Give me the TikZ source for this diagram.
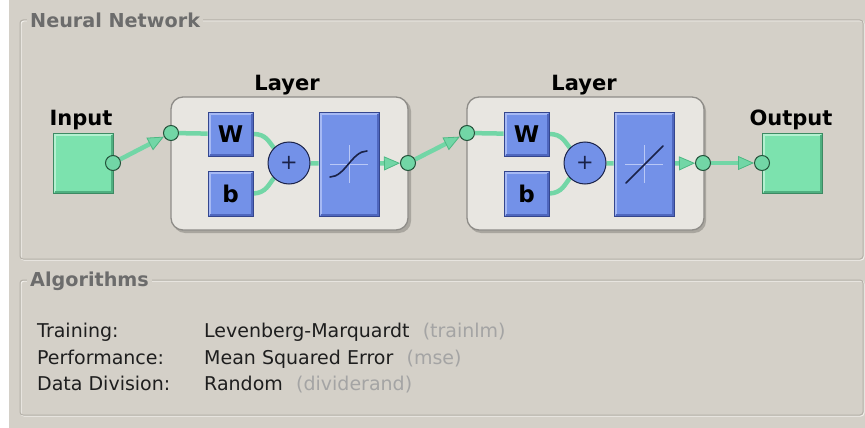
\documentclass[tikz,border=0pt]{standalone}
\usepackage{fontspec}
\setmainfont{DejaVu Sans}
\usetikzlibrary{arrows.meta}

\definecolor{panel}{HTML}{D4D0C8}
\definecolor{etchdark}{HTML}{B4B0A8}
\definecolor{etchlight}{HTML}{F2F0EC}
\definecolor{titlegray}{HTML}{6C6C6C}
\definecolor{textdark}{HTML}{1E1E1E}
\definecolor{parengray}{HTML}{A4A4A4}
\definecolor{layerfill}{HTML}{E8E6E1}
\definecolor{layeredge}{HTML}{8E8C88}
\definecolor{layershade}{HTML}{A9A69F}
\definecolor{blueface}{HTML}{7391E8}
\definecolor{bluelight}{HTML}{A6B9F4}
\definecolor{blueshade}{HTML}{4F67BE}
\definecolor{blueedge}{HTML}{34468E}
\definecolor{navy}{HTML}{1A2248}
\definecolor{crossline}{HTML}{B9C8F6}
\definecolor{greenface}{HTML}{7CE2AE}
\definecolor{greenlight}{HTML}{B4F0D0}
\definecolor{greenshade}{HTML}{4FAF80}
\definecolor{greenedge}{HTML}{3D8A63}
\definecolor{wire}{HTML}{72D6A6}
\definecolor{wiretip}{HTML}{4DB883}
\definecolor{dotedge}{HTML}{24533B}

\pgfdeclarelayer{under}
\pgfdeclarelayer{wires}
\pgfsetlayers{under,wires,main}

\tikzset{
  panelframe/.style={rounded corners=3pt, line width=1pt},
  paneltitle/.style={anchor=base west, fill=panel, inner xsep=3pt, inner ysep=1pt,
    text=titlegray, font=\fontsize{19.2}{22}\selectfont\bfseries},
  bigtag/.style={anchor=base, inner sep=0pt, text=black,
    font=\fontsize{21}{24}\selectfont\bfseries},
  plaintext/.style={anchor=base west, inner sep=0pt, text=textdark,
    font=\fontsize{19}{22}\selectfont},
  layerbox/.style={draw=layeredge, line width=1.3pt, fill=layerfill,
    rounded corners=12pt, minimum width=237pt, minimum height=133pt},
  bevelbox/.style n args={4}{draw=#4, line width=0.9pt, fill=#1,
    path picture={
      \draw[#2, line width=2pt]
        ([shift={(1.5pt,1.5pt)}]path picture bounding box.south west)
        |- ([shift={(-1.5pt,-1.5pt)}]path picture bounding box.north east);
      \draw[#3, line width=2pt]
        ([shift={(1.5pt,1.5pt)}]path picture bounding box.south west)
        -| ([shift={(-1.5pt,-1.5pt)}]path picture bounding box.north east);
    }},
  bluebox/.style={bevelbox={blueface}{bluelight}{blueshade}{blueedge},
    inner sep=0pt, text=black, font=\fontsize{23}{24}\selectfont\bfseries},
  greenbox/.style={bevelbox={greenface}{greenlight}{greenshade}{greenedge},
    minimum width=60pt, minimum height=60pt, inner sep=0pt},
  sumnode/.style={circle, draw=navy, line width=1pt, fill=blueface,
    minimum size=42pt, inner sep=0pt, text=navy,
    font=\fontsize{21}{22}\selectfont},
  dot/.style={circle, draw=dotedge, line width=1pt, fill=wire,
    minimum size=15pt, inner sep=0pt},
  wireline/.style={draw=wire, line width=4.5pt},
  wirearrow/.style={wireline,
    -{Triangle[length=16pt, width=14pt, line width=0.8pt, color=wiretip, fill=wire]}},
  crosshair/.style={crossline, line width=1pt},
  curveline/.style={navy, line width=1.6pt, line cap=round},
}

\begin{document}
\begin{tikzpicture}[x=1pt, y=-1pt]
\useasboundingbox (0,0) rectangle (865,428);

\begin{pgfonlayer}{under}
  % window background
  \fill[white] (0,0) rectangle (865,428);
  \fill[panel] (9,0) rectangle (865,428);

  % etched group frames
  \draw[panelframe, etchlight] (21,21) rectangle (864,260);
  \draw[panelframe, etchdark] (20,20) rectangle (863,259);
  \draw[panelframe, etchlight] (21,281) rectangle (864,416);
  \draw[panelframe, etchdark] (20,280) rectangle (863,415);

  % layer containers with drop shadow
  \fill[layershade, rounded corners=12pt] (173,99) rectangle (411,233);
  \node[layerbox] (L1) at (289.5,163.5) {};
  \fill[layershade, rounded corners=12pt] (469,99) rectangle (706,233);
  \node[layerbox] (L2) at (585.5,163.5) {};
\end{pgfonlayer}

% group titles
\node[paneltitle] (nntitle) at (27,27.5) {Neural Network};
\node[paneltitle] (algtitle) at (27,286.5) {Algorithms};

% input
\node[bigtag] (inlbl) at (81,125.5) {Input};
\node[greenbox] (inbox) at (83,163) {};
\node[dot] (c0) at (113,163) {};

% first layer
\node[bigtag] (L1lbl) at (287,90.5) {Layer};
\node[dot] (c1) at (171,133) {};
\node[bluebox, minimum width=45pt, minimum height=44pt] (W1) at (230.5,134) {W};
\node[bluebox, minimum width=45pt, minimum height=45pt] (b1) at (230.5,193.5) {b};
\node[sumnode] (s1) at (289,163) {+};
\node[bluebox, minimum width=60pt, minimum height=104pt] (f1) at (349,164) {};
\node[dot] (c2) at (408,163) {};

% second layer
\node[bigtag] (L2lbl) at (584,90.5) {Layer};
\node[dot] (c3) at (467,133) {};
\node[bluebox, minimum width=45pt, minimum height=44pt] (W2) at (526.5,134) {W};
\node[bluebox, minimum width=45pt, minimum height=45pt] (b2) at (526.5,193.5) {b};
\node[sumnode] (s2) at (585,163) {+};
\node[bluebox, minimum width=60pt, minimum height=104pt] (f2) at (644,164) {};
\node[dot] (c4) at (703,163) {};

% output
\node[bigtag] (outlbl) at (791,125.5) {Output};
\node[greenbox] (outbox) at (792,163) {};
\node[dot] (c5) at (762,163) {};

% transfer function glyphs
\begin{scope}[shift={(f1.center)}]
  \draw[crosshair] (-19,0) -- (19,0);
  \draw[crosshair] (0,-19) -- (0,19);
  \draw[curveline] (-19,13) .. controls (-4,13) and (3,-13) .. (18,-13);
\end{scope}
\begin{scope}[shift={(f2.center)}]
  \draw[crosshair] (-19,0) -- (19,0);
  \draw[crosshair] (0,-19) -- (0,19);
  \draw[curveline] (-18,19) -- (19,-18);
\end{scope}

% connections
\begin{pgfonlayer}{wires}
  \draw[wirearrow] (c0) -- (c1);
  \draw[wireline] (c1) -- (W1);
  \draw[wireline] (W1.east) .. controls (266,134) and (269,142) .. (s1.135);
  \draw[wireline] (b1.east) .. controls (266,193) and (269,184) .. (s1.225);
  \draw[wireline] (s1) -- (f1);
  \draw[wirearrow] (f1) -- (c2);
  \draw[wirearrow] (c2) -- (c3);
  \draw[wireline] (c3) -- (W2);
  \draw[wireline] (W2.east) .. controls (562,134) and (565,142) .. (s2.135);
  \draw[wireline] (b2.east) .. controls (562,193) and (565,184) .. (s2.225);
  \draw[wireline] (s2) -- (f2);
  \draw[wirearrow] (f2) -- (c4);
  \draw[wirearrow] (c4) -- (c5);
\end{pgfonlayer}

% algorithm summary
\node[plaintext] (k1) at (37,337) {Training:};
\node[plaintext] (k2) at (37,364) {Performance:};
\node[plaintext] (k3) at (37,390) {Data Division:};
\node[plaintext] (v1) at (204,337) {Levenberg-Marquardt\hspace{0.7em}\textcolor{parengray}{(trainlm)}};
\node[plaintext] (v2) at (204,364) {Mean Squared Error\hspace{0.7em}\textcolor{parengray}{(mse)}};
\node[plaintext] (v3) at (204,390) {Random\hspace{0.7em}\textcolor{parengray}{(dividerand)}};
\end{tikzpicture}
\end{document}
